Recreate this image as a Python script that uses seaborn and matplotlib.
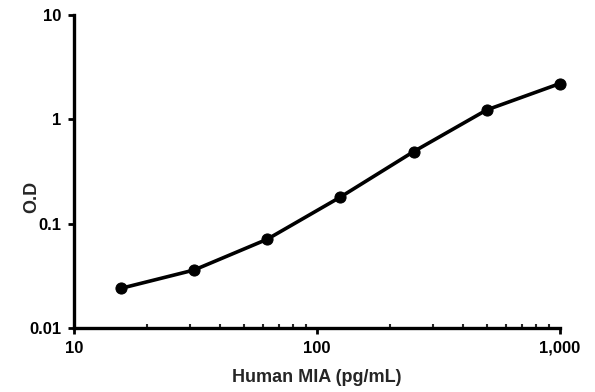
import numpy as np
import pandas as pd
import seaborn as sns
import matplotlib.pyplot as plt
from matplotlib.ticker import FuncFormatter, LogLocator

conc = [15.6, 31.25, 62.5, 125, 250, 500, 1000]
od = [0.024, 0.036, 0.071, 0.18, 0.49, 1.23, 2.2]

df = pd.DataFrame({"conc": conc, "od": od})

sns.set_style("white")
plt.rcParams['font.family'] = ['Liberation Sans', 'DejaVu Sans']

fig = plt.figure(figsize=(5.95, 3.92), dpi=100)
ax = fig.add_axes([0.124, 0.163, 0.817, 0.799])

sns.lineplot(data=df, x="conc", y="od", ax=ax, color="black", linewidth=2.6,
             marker="o", markersize=8, markeredgecolor="black", clip_on=False)
ax.set_xscale("log")
ax.set_yscale("log")
ax.set_xlim(10, 1000)
ax.set_ylim(0.01, 10)

ax.xaxis.set_major_locator(LogLocator(base=10))
ax.xaxis.set_minor_locator(LogLocator(base=10, subs=np.arange(2, 10)))
ax.yaxis.set_minor_locator(plt.NullLocator())
ax.xaxis.set_major_formatter(FuncFormatter(lambda v, p: f"{v:,.0f}"))
ax.yaxis.set_major_formatter(FuncFormatter(lambda v, p: f"{v:g}"))

for s in ["top", "right"]:
    ax.spines[s].set_visible(False)
for s in ["left", "bottom"]:
    ax.spines[s].set_linewidth(2.4)
    ax.spines[s].set_color("black")

ax.tick_params(axis="both", which="major", direction="out", length=4, width=2,
               labelsize=12, pad=5, colors="black", bottom=True, left=True)
ax.tick_params(axis="x", which="minor", direction="in", length=3, width=1.5,
               bottom=True)
for lab in ax.get_xticklabels() + ax.get_yticklabels():
    lab.set_fontweight("bold")

ax.set_xlabel("Human MIA (pg/mL)", fontsize=13, fontweight="bold")
ax.set_ylabel("O.D", fontsize=13, fontweight="bold")
ax.xaxis.set_label_coords(0.5, -0.13)
ax.yaxis.set_label_coords(-0.068, 0.42)

fig.savefig("out.png", dpi=100)
